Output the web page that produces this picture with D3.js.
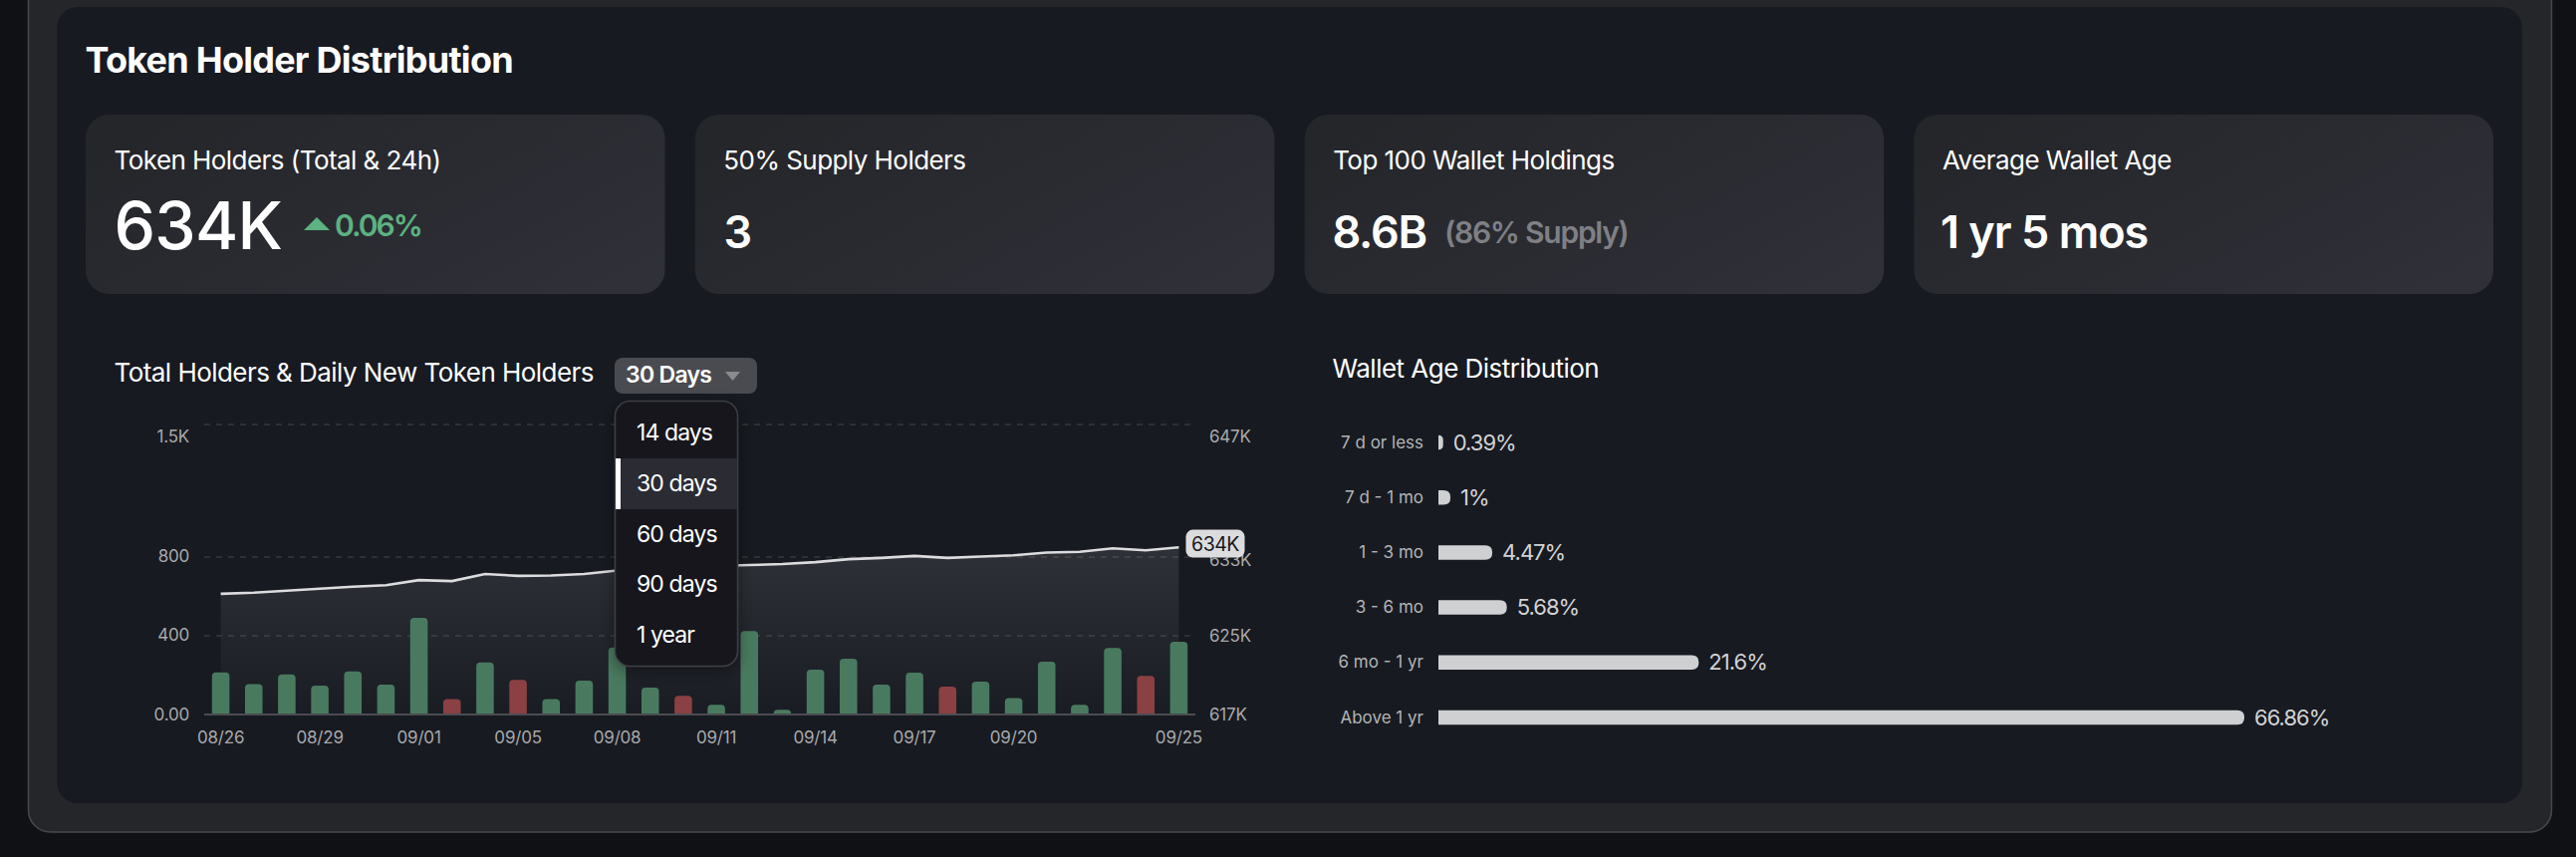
<!DOCTYPE html>
<html><head><meta charset="utf-8">
<script src="https://cdn.jsdelivr.net/npm/d3@7/dist/d3.min.js"></script>
<style>
html,body{margin:0;padding:0;background:#101114;overflow:hidden}
svg{display:block}
text{font-family:Inter,"Noto Sans",sans-serif}
.axis path,.axis line{display:none}
</style></head><body><svg id="c" width="2586" height="860"></svg>
<script>
const dates=["08/26","08/27","08/28","08/29","08/30","08/31","09/01","09/02","09/03","09/05","09/06","09/07","09/08","09/09","09/10","09/11","09/12","09/13","09/14","09/15","09/16","09/17","09/18","09/19","09/20","09/21","09/22","09/23","09/24","09/25"];
const dailyNew=[214,155,204,147,219,152,491,-78,265,-176,78,172,341,137,-95,49,424,24,228,284,152,213,-142,167,84,268,49,338,-196,370];
const totalHolders=[629.28,629.4,629.6,629.8,630.0,630.16,630.67,630.57,631.3,631.1,631.14,631.3,631.65,631.8,631.95,632.1,632.2,632.3,632.5,632.8,632.93,633.13,632.93,633.07,633.2,633.47,633.55,633.9,633.7,634.0];
const xTickDates=["08/26","08/29","09/01","09/05","09/08","09/11","09/14","09/17","09/20","09/25"];
const leftTicks=[0,400,800,1473];
const leftTickLabels=["0.00","400","800","1.5K"];
const rightTicks=[617,625,633,646.5];
const rightTickLabels=["617K","625K","633K","647K"];
const ageCategories=["7 d or less","7 d - 1 mo","1 - 3 mo","3 - 6 mo","6 mo - 1 yr","Above 1 yr"];
const agePercents=[0.39,1,4.47,5.68,21.6,66.86];
const ageLabels=["0.39%","1%","4.47%","5.68%","21.6%","66.86%"];
const menuOptions=["14 days","30 days","60 days","90 days","1 year"];
const cardTitles=["Token Holders (Total & 24h)","50% Supply Holders","Top 100 Wallet Holdings","Average Wallet Age"];

const svg=d3.select("#c");
const defs=svg.append("defs");
const cg=defs.append("linearGradient").attr("id","cardG").attr("x1","0").attr("y1","0.2").attr("x2","1").attr("y2","0.8");
cg.append("stop").attr("offset","0").attr("stop-color","#25262a");
cg.append("stop").attr("offset","1").attr("stop-color","#2f3038");
const ag=defs.append("linearGradient").attr("id","areaG").attr("x1","0").attr("y1","0").attr("x2","0").attr("y2","1");
ag.append("stop").attr("offset","0").attr("stop-color","#fff").attr("stop-opacity",0.10);
ag.append("stop").attr("offset","1").attr("stop-color","#fff").attr("stop-opacity",0.01);
const sh=defs.append("filter").attr("id","sh").attr("x","-20%").attr("y","-20%").attr("width","140%").attr("height","140%");
sh.append("feDropShadow").attr("dx",0).attr("dy",4).attr("stdDeviation",8).attr("flood-color","#000").attr("flood-opacity",0.4);

const label=(x,y,size,weight,fill,ls,txt)=>svg.append("text").attr("x",x).attr("y",y).attr("font-size",size).attr("font-weight",weight).attr("fill",fill).attr("letter-spacing",ls).text(txt);

svg.append("rect").attr("width",2586).attr("height",860).attr("fill","#101114");
svg.append("rect").attr("x",28.5).attr("y",-40).attr("width",2533).attr("height",875).attr("rx",22).attr("fill","#25262a").attr("stroke","#47484d").attr("stroke-width",1.5);
svg.append("rect").attr("x",57).attr("y",7).attr("width",2475).attr("height",799).attr("rx",21).attr("fill","#171a21");
label(85.5,73,36,700,"#fff",-0.75,"Token Holder Distribution");

const cardX=d3.scaleBand().domain(cardTitles).range([86,2503]).paddingInner(0.0495).paddingOuter(0);
const cards=svg.selectAll("g.card").data(cardTitles).join("g").attr("class","card").attr("transform",d=>`translate(${cardX(d)},115)`);
cards.append("rect").attr("width",cardX.bandwidth()).attr("height",180).attr("rx",24).attr("fill","url(#cardG)");
cards.append("text").attr("x",28.5).attr("y",55).attr("font-size",26).attr("letter-spacing",-0.55).attr("fill","#fff").text(d=>d);

label(114.5,250,66,500,"#fff",-0.75,"634K");
svg.append("path").attr("d",d3.line()([[305,231],[318,218],[331,231]])+"Z").attr("fill","#5cb281");
label(336,237,30,600,"#5cb281",-2,"0.06%");
label(726.5,249,45,600,"#fff",0,"3");
label(1337.5,249,45,600,"#fff",-1.25,"8.6B");
label(1450,244,30,600,"#7f8085",-1.25,"(86% Supply)");
label(1948,249,45,600,"#fff",-1,"1 yr 5 mos");

label(114.5,383,26,400,"#fff",-0.55,"Total Holders & Daily New Token Holders");
label(1337.5,379,26,400,"#fff",-0.52,"Wallet Age Distribution");

// chart
const x=d3.scaleBand().domain(dates).range([205,1200]);
const yL=d3.scaleLinear().domain([0,1473]).range([717,426]);
const yR=d3.scaleLinear().domain([617,646.5]).range([717,426]);
const cx=d=>x(d)+x.bandwidth()/2;
const barW=x.bandwidth()*0.53;

svg.append("g").selectAll("line").data(leftTicks.slice(1)).join("line")
 .attr("x1",205).attr("x2",1200).attr("y1",d=>yL(d)).attr("y2",d=>yL(d))
 .attr("stroke","#2e2f35").attr("stroke-width",2).attr("stroke-dasharray","6 6");

const pts=dates.map((d,i)=>({d,v:totalHolders[i]}));
svg.append("path").datum(pts).attr("fill","url(#areaG)")
 .attr("d",d3.area().x(p=>cx(p.d)).y0(yL(0)).y1(p=>yR(p.v)).curve(d3.curveLinear));
svg.append("path").datum(pts).attr("fill","none").attr("stroke","#dcdcde").attr("stroke-width",2.6)
 .attr("d",d3.line().x(p=>cx(p.d)).y(p=>yR(p.v)).curve(d3.curveLinear));

const bar=(d,v)=>{const l=cx(d)-barW/2,r=cx(d)+barW/2,t=yL(Math.abs(v)),b=yL(0),q=Math.min(4,b-t);
 return `M${l},${b}V${t+q}Q${l},${t} ${l+q},${t}H${r-q}Q${r},${t} ${r},${t+q}V${b}Z`;};
svg.append("g").selectAll("path").data(dates).join("path")
 .attr("d",(d,i)=>bar(d,dailyNew[i])).attr("fill",(d,i)=>dailyNew[i]<0?"#8b4043":"#497a5f");
svg.append("line").attr("x1",205).attr("x2",1200).attr("y1",yL(0)).attr("y2",yL(0)).attr("stroke","#4b4c51").attr("stroke-width",2);

const tickStyle=g=>g.selectAll("text").attr("fill","#a9a9ab").attr("font-size",17).attr("letter-spacing",-0.2).style("font-family","Inter");
const ax=svg.append("g").attr("class","axis").attr("transform","translate(0,717)")
 .call(d3.axisBottom(x).tickValues(xTickDates).tickSize(0).tickPadding(0)).call(tickStyle);
ax.selectAll("text").attr("y",29).attr("dy",0);
const al=svg.append("g").attr("class","axis").attr("transform","translate(190,0)")
 .call(d3.axisLeft(yL).tickValues(leftTicks).tickFormat((d,i)=>leftTickLabels[i]).tickSize(0).tickPadding(0)).call(tickStyle);
al.selectAll("text").attr("dy",(d,i)=>i==3?"17":"5").attr("x",0);
const ar=svg.append("g").attr("class","axis").attr("transform","translate(1214,0)")
 .call(d3.axisRight(yR).tickValues(rightTicks).tickFormat((d,i)=>rightTickLabels[i]).tickSize(0).tickPadding(0)).call(tickStyle);
ar.selectAll("text").attr("dy",(d,i)=>i==3?"17":i==2?"8":"5").attr("x",0);

// last value flag
const last=pts[pts.length-1];
const flag=svg.append("g").attr("transform",`translate(1220,${yR(last.v)-3.7})`);
flag.append("rect").attr("x",-29.5).attr("y",-14).attr("width",59).attr("height",28).attr("rx",7).attr("fill","#dcdcde");
flag.append("text").attr("text-anchor","middle").attr("y",7).attr("font-size",19.5).attr("letter-spacing",-0.5).attr("fill","#17191f").text("634K");

// dropdown
svg.append("rect").attr("x",617).attr("y",359).attr("width",143).attr("height",36).attr("rx",8).attr("fill","#4a4b50");
label(628,384,23,600,"#fff",-0.7,"30 Days");
svg.append("path").attr("d",d3.line()([[728,373],[743,373],[735.5,382]])+"Z").attr("fill","#8b8b8e");
svg.append("rect").attr("x",617.5).attr("y",402.5).attr("width",123).attr("height",266).attr("rx",15).attr("fill","#16181e").attr("stroke","#3c3d42").attr("stroke-width",1.5).attr("filter","url(#sh)");
const my=d3.scaleBand().domain(menuOptions).range([408,662]);
svg.append("rect").attr("x",618).attr("y",460).attr("width",122).attr("height",51).attr("fill","#2a2b33");
svg.append("rect").attr("x",618).attr("y",460).attr("width",5).attr("height",51).attr("fill","#fff");
svg.append("g").selectAll("text").data(menuOptions).join("text")
 .attr("x",639).attr("y",d=>my(d)+my.bandwidth()/2+8.5).attr("font-size",23).attr("letter-spacing",-0.9).attr("fill","#fff").text(d=>d);

// wallet age
const wx=d3.scaleLinear().domain([0,100]).range([1444,1444+1210]);
const wy=d3.scalePoint().domain(ageCategories).range([444,720]);
const wh=14.5;
svg.append("g").selectAll("path").data(ageCategories).join("path").attr("fill","#cfd0d2").attr("d",(c,i)=>{
  const l=wx(0),r=wx(agePercents[i]),w=r-l,t=wy(c)-wh/2,b=wy(c)+wh/2,q=Math.min(7,w);
  return `M${l},${t}H${r-q}Q${r},${t} ${r},${t+q}V${b-q}Q${r},${b} ${r-q},${b}H${l}Z`;
});
svg.append("g").selectAll("text").data(ageCategories).join("text")
 .attr("x",1429).attr("y",c=>wy(c)+5.5).attr("text-anchor","end").attr("font-size",17).attr("fill","#b4b4b6").text(c=>c);
svg.append("g").selectAll("text").data(ageCategories).join("text")
 .attr("x",(c,i)=>wx(agePercents[i])+10).attr("y",c=>wy(c)+7.5).attr("font-size",22).attr("letter-spacing",-1).attr("fill","#d2d2d4").text((c,i)=>ageLabels[i]);
</script></body></html>
